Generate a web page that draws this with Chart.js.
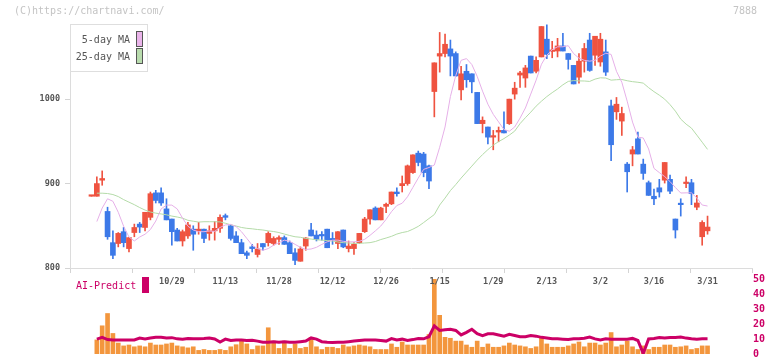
<!DOCTYPE html>
<html>
<head>
<meta charset="utf-8">
<script src="https://cdn.jsdelivr.net/npm/chart.js@4/dist/chart.umd.min.js"></script>
<style>
  html, body { margin: 0; padding: 0; background: #ffffff; }
  #wrap { position: relative; width: 772px; height: 361px; overflow: hidden; font-family: "DejaVu Sans Mono", "Liberation Mono", monospace; }
  canvas { position: absolute; left: 0; }
  .ov { position: absolute; white-space: pre; }
</style>
</head>
<body>
<div id="wrap">
  <canvas id="vol" width="772" height="91" style="top:270px"></canvas>
  <canvas id="main" width="772" height="300" style="top:0px"></canvas>

  <div class="ov" style="left:14px;top:5px;font-size:10px;color:#c4c4c4;">(C)https://chartnavi.com/</div>
  <div class="ov" style="left:733px;top:5px;font-size:10px;color:#c4c4c4;">7888</div>

  <div class="ov" style="left:70px;top:24px;width:76px;height:46px;border:1px solid #dedede;background:#fff;"></div>
  <div class="ov" style="left:60px;top:34px;width:70px;text-align:right;font-size:10px;color:#555;">5-day MA</div>
  <div class="ov" style="left:136px;top:31px;width:5px;height:14px;border:1px solid #555;background:#eab4ea;"></div>
  <div class="ov" style="left:60px;top:51px;width:70px;text-align:right;font-size:10px;color:#555;">25-day MA</div>
  <div class="ov" style="left:136px;top:48px;width:5px;height:14px;border:1px solid #555;background:#b9dcae;"></div>

  <div class="ov" style="left:76px;top:280px;font-size:10px;color:#cc0066;">AI-Predict</div>
  <div class="ov" style="left:142px;top:277px;width:7px;height:16px;background:#cc0066;"></div>
</div>
<script>
// ---- data ----
const tickLabels = ['10/29','11/13','11/28','12/12','12/26','1/15','1/29','2/13','3/2','3/16','3/31'];
const tickIndex  = [15, 25, 35, 45, 55, 65, 75, 85, 95, 105, 115];
const priceTicks = [800, 900, 1000];
const volTicks   = [0, 10, 20, 30, 40, 50];

const open = [885,885,904,867,830,829,843,823,842,852,848,860,889,889,870,858,845,832,838,846,
  844,846,841,844,847,862,850,838,830,818,825,816,829,830,829,834,836,830,818,808,
  826,845,839,839.5,846,835,829,845,823,823,830,843,858,871,857,873,876,890,897.5,900,
  913,936,935,921,1009,1051,1054,1059.5,1054,1011,1033,1030,1008,971,967,955,961,963,971,1006,
  1028.5,1025,1051,1033,1050,1071,1056.5,1057,1063,1054,1040,1026,1045,1070,1052,1044,1056,992,985,974,
  923,935,953,923,901,885,895,904,905,858,876,900,901,872,837,844];
const high = [885,908,915,872,844,842,848,836,852,854,866,890,892,895,882,858,847,845,854,850,
  854,846,850,855,863,864,851,843,834,820,828,829,829,843,837,838,838,832,823,825,
  836,853,844,843,846,842,843,845,832,830,841,860,869,872.5,872,877,890,895,909,922,
  934,938.5,937,922,1043,1079,1077,1070,1056,1039,1041,1030,1008,979,967,963,967,985,1000,1020,
  1033,1040,1051,1050,1086,1088,1068.5,1072,1078,1054,1040,1054,1066,1078,1074.5,1078,1070,999,1002,990.5,
  925,944,961,929,903,893.5,905,925,910,858,882,908,905,886,856,861.5];
const low = [885,885,898,834,811,825,825,819,837,842,844,857,877,874,857,827,832,826,835,821,
  840,830,833,833,842,857,833,830,817,811,819,813,821,826,827,828,828,817,804,808,
  821,838,832,833,824,828,823,824,819,816,829,842,852,857,857,865.5,875,885,890,898,
  912,921,908,894,979,1032,1050,1027.5,1027,999,1014,1007.5,971,960,947,940,949.5,960,970,1000,
  1014,1014,1031,1031,1050,1048,1049,1050,1057,1035.5,1018,1019,1032,1033,1040,1039,1028,927,976,957,
  890,921,935,905,886,875,884,900.6,888,835.5,861.5,895,875,869,827,840];
const close = [885,900,906,837,815,841,830,836,848,848.5,866,888,880,877,857,843,832,843,851,840,
  846,835,844,847,860,860,835,830,817,815,823,822.5,825,841,835,836,828,817,809,822.5,
  835.5,838,834,838,824,833,843,825,826,828,841,858,869,857,871,875.5,890,888,900,921,
  934,925,913,903,1043,1054,1065,1051,1027.5,1030,1023,1020.5,971,975,955,956,963,960,1000,1013,
  1031,1037,1031,1046,1086,1053,1058,1063,1057,1047,1018,1045,1060,1034,1074.5,1071,1032,946,994,983,
  914,940,935,912,886,882,890,925,891,845,875,901,888,877,854,848.5];

const ma5 = [null,855,871,882,879,866,849.5,836.7,832,836.7,840,845.6,855.6,870,874.5,874.5,870,859,849.5,845,
  843,843,843.8,843.4,848,851,851.7,849,843,835,827,823,821,823,827,830,833,831.6,828,824.5,
  822,822.5,824.5,828,831,833,833,831.6,831,831,831.6,834,838.7,844,849.7,857.6,866.7,874,876.7,884.4,
  895.5,906.5,916.8,919,922,943,967,1003,1028,1046,1048,1041,1027,1009.5,994,982,973,964,962,967,
  977.5,989.5,1006,1022.5,1041.4,1052,1058.6,1062,1062,1063.3,1054,1048.5,1046,1045,1046,1051,1054.4,1053,1033,1020,
  997.6,972.8,955,954,941,918,913,908.3,902.4,895.3,888.8,889,889,883,874.6,873.4];
const ma25 = [null,888.6,888.6,888.2,887,884.6,881,878,875,871.6,868.6,866.3,865,864,863,861.5,860.4,859,856.5,855.4,
  854.4,854.8,854.8,854.8,854.6,853,851.2,849.7,848,847,846.4,845.6,845,844,843.2,842,840.2,838.5,837,836.4,
  835,834.3,833.4,833,832.5,832,830.8,830,829.6,829.2,829.2,829.6,830,831.4,833.7,835.5,837.5,840.2,842,843.2,
  846,849.3,853.8,858.6,863.3,874.6,882.8,891.7,898.8,906.5,913.6,920.7,927.8,934.3,940.2,945.6,949.7,953.3,957.4,962.1,
  971,978,984.6,991.7,997.6,1003,1007.7,1012,1017,1021,1022,1021.6,1021.5,1021,1023.7,1025.3,1025,1022.5,1023,1023.3,
  1021.8,1020.7,1020,1019,1013.6,1008.9,1004.7,1000,993.5,985.8,976.3,970.4,965.7,957.4,949,940.5];
const volume = [null,9.4,18.8,27,13.7,7.3,5.4,6,4.8,5.4,4.8,7.3,6,6,6.7,7.3,5.4,4.8,4.1,4.8,
  2.4,3,2.4,2.4,3,2.4,4.8,6.2,9.2,6.7,3,5.4,5.4,17.5,8.6,3.7,8.6,3.7,6.7,3.7,
  4.5,11.1,4.8,3,4.5,4.5,3.7,6,4.8,5.4,6,5.4,4.8,3,3,3,6.7,4.5,8,6,
  6,6,6,13,50,25.8,11.1,10.5,8.6,8.6,6,4.5,8.6,4.5,6.7,4.5,4.5,5.4,7.3,6,
  5.4,4.8,3.7,4.8,11.1,6.7,4.5,4.5,4.5,5.4,6.7,8,4.8,7.3,7.3,6,7.3,14.3,4.8,6,
  8.6,4.8,3,5.4,3,4.5,4.5,6,6,4.5,4.8,5.4,3,3.7,5.4,5.4];
const aiPredict = [null,9.9,11.1,9.6,9.4,9.4,9.4,9.4,9.4,10.6,10,10.6,11.1,11.1,10.7,10.9,10.1,9.9,10.4,10.2,
  10.1,10.3,10.6,10,8,9.9,9,9.4,9.4,9,9.2,8.6,7.8,7.8,8.2,7.8,8.2,7.8,7.8,8.2,
  8.6,10.7,9.9,8.2,7.8,7.6,7.8,7.8,8.2,8.6,9,9.4,9.4,9.4,9,8.6,10.3,9.4,9.9,9,
  9.6,10.3,10.1,11.5,18.8,15.7,16.1,16.5,15.7,12.7,14.4,16.5,13.5,12.3,13.5,13.5,12.7,11.9,13.1,12.3,
  11.5,11.5,12.3,11.9,11.1,10.7,10.1,10.1,9.9,9.6,10.1,10.1,10.5,11.3,10.1,9.4,10.1,9.9,9.9,9.9,
  9.9,10.4,9,0.3,10,10.4,11,10.6,11,11,11.3,10.6,10.1,9.9,10.1,10.1];

// ---- styles ----
const UP = '#ef5340', DOWN = '#3c79e8';
const X_MIN = -4.01, X_MAX = 123.3, MARK_STEP = 11.574;
const FONT = '"DejaVu Sans Mono", "Liberation Mono", monospace';

const idx = open.map((_, i) => i);
const bodies = idx.map(i => ({ x: i, y: [Math.min(open[i], close[i]), Math.max(open[i], close[i])] }));
const wicks  = idx.map(i => ({ x: i, y: [low[i], high[i]] }));
const candleColors = idx.map(i => close[i] >= open[i] ? UP : DOWN);
const labelMap = {};
tickIndex.forEach((v, j) => { labelMap[v] = tickLabels[j]; });
const markTicks = [];
for (let v = X_MIN; v <= X_MAX + 0.01; v += MARK_STEP) markTicks.push(v);

new Chart(document.getElementById('main'), {
  type: 'bar',
  data: {
    datasets: [
      { type: 'line', data: ma5.map((v, i) => ({ x: i, y: v })), borderColor: '#e6b0e8', borderWidth: 1,
        pointRadius: 0, tension: 0, order: 0 },
      { type: 'line', data: ma25.map((v, i) => ({ x: i, y: v })), borderColor: '#b4dba8', borderWidth: 1,
        pointRadius: 0, tension: 0, order: 0 },
      { data: bodies, backgroundColor: candleColors, barThickness: 5, minBarLength: 1.5, grouped: false, order: 1 },
      { data: wicks, backgroundColor: candleColors, barThickness: 1, grouped: false, order: 2 }
    ]
  },
  options: {
    responsive: false, animation: false, devicePixelRatio: 1,
    layout: { padding: { left: 0, right: 20, top: 24, bottom: 0 } },
    plugins: { legend: { display: false }, tooltip: { enabled: false } },
    scales: {
      x: {
        type: 'linear', min: X_MIN, max: X_MAX, offset: false,
        afterBuildTicks: (axis) => {
          const t = markTicks.map(v => ({ value: v })).concat(tickIndex.map(v => ({ value: v })));
          t.sort((a, b) => a.value - b.value);
          axis.ticks = t;
        },
        afterFit: (axis) => { axis.height = 32; },
        ticks: {
          autoSkip: false, maxRotation: 0, minRotation: 0, padding: 4,
          color: '#555', font: { family: FONT, size: 8.5, weight: 'bold' },
          callback: (v) => (labelMap[v] !== undefined ? labelMap[v] : '')
        },
        grid: {
          drawOnChartArea: false, offset: false, tickLength: 5, lineWidth: 1,
          tickColor: (ctx) => (ctx.tick && labelMap[ctx.tick.value] !== undefined ? 'rgba(0,0,0,0)' : '#d4d4d4')
        },
        border: { display: true, color: '#dcdcdc', width: 1 }
      },
      y: {
        min: 800, max: 1089,
        afterBuildTicks: (axis) => { axis.ticks = priceTicks.map(v => ({ value: v })); },
        afterFit: (axis) => { axis.width = 70; },
        ticks: { color: '#555', padding: 5, autoSkip: false, font: { family: FONT, size: 8.5, weight: 'bold' },
          callback: (v) => String(v) },
        grid: { drawOnChartArea: false, tickLength: 5, tickColor: '#d4d4d4' },
        border: { display: true, color: '#dcdcdc', width: 1 }
      }
    }
  }
});

new Chart(document.getElementById('vol'), {
  type: 'bar',
  data: {
    datasets: [
      { type: 'line', data: aiPredict.map((v, i) => ({ x: i, y: v })), borderColor: '#cc0066', borderWidth: 3,
        pointRadius: 0, tension: 0, order: 0, yAxisID: 'y' },
      { data: volume.map((v, i) => ({ x: i, y: v })), backgroundColor: '#f3963d', barThickness: 4, order: 1, yAxisID: 'y' }
    ]
  },
  options: {
    responsive: false, animation: false, devicePixelRatio: 1,
    layout: { padding: { left: 70, right: 0, top: 9, bottom: 3 } },
    plugins: { legend: { display: false }, tooltip: { enabled: false } },
    scales: {
      x: { type: 'linear', min: X_MIN, max: X_MAX, offset: false, display: false },
      y: {
        position: 'right', min: 0, max: 50,
        afterBuildTicks: (axis) => { axis.ticks = volTicks.map(v => ({ value: v })); },
        afterFit: (axis) => { axis.width = 20; },
        ticks: { autoSkip: false, padding: 1, color: '#cc0066', font: { family: FONT, size: 10, weight: 'bold' },
          callback: (v) => String(v) },
        grid: { display: false, drawTicks: false },
        border: { display: false }
      }
    }
  }
});
</script>
</body>
</html>
